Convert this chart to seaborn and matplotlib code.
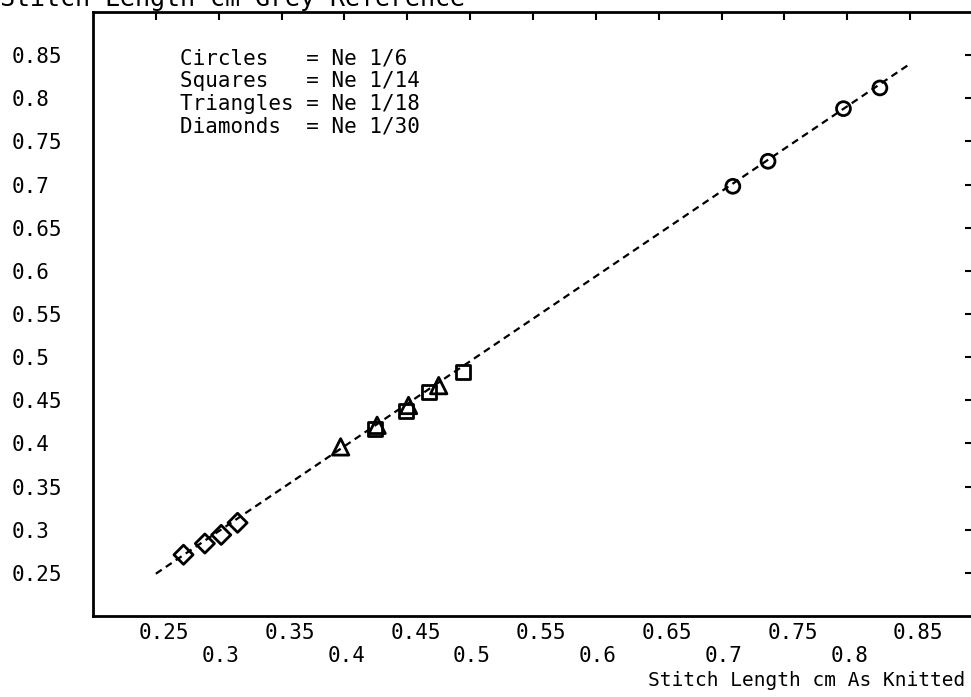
import matplotlib
matplotlib.use("Agg")
import matplotlib.pyplot as plt
import matplotlib.transforms as mtransforms
import seaborn as sns
import pandas as pd

sns.set_theme(style="white")
plt.rcParams['font.family'] = ['DejaVu Sans Mono']

# Stitch length measurements (cm): as knitted vs grey reference
circle_x = [0.709, 0.737, 0.797, 0.826]
circle_y = [0.698, 0.727, 0.788, 0.812]
square_x = [0.424, 0.449, 0.467, 0.494]
square_y = [0.417, 0.438, 0.460, 0.483]
triangle_x = [0.397, 0.426, 0.451, 0.475]
triangle_y = [0.396, 0.421, 0.444, 0.467]
diamond_x = [0.272, 0.289, 0.302, 0.315]
diamond_y = [0.271, 0.284, 0.294, 0.308]

# fitted line end points
fit_x = [0.25, 0.85]
fit_y = [0.249, 0.840]

tick_values = [0.25, 0.3, 0.35, 0.4, 0.45, 0.5, 0.55, 0.6, 0.65, 0.7, 0.75, 0.8, 0.85]
tick_labels = ['0.25', '0.3', '0.35', '0.4', '0.45', '0.5', '0.55', '0.6',
               '0.65', '0.7', '0.75', '0.8', '0.85']

legend_lines = ['Circles   = Ne 1/6', 'Squares   = Ne 1/14',
                'Triangles = Ne 1/18', 'Diamonds  = Ne 1/30']

W, H = 971, 697
fig = plt.figure(figsize=(W / 100, H / 100), dpi=100)
ax = fig.add_axes([93 / W, 1 - 616 / H, (W - 93) / W + 0.002, (616 - 12) / H])

sns.lineplot(x=fit_x, y=fit_y, ax=ax, color='black', linewidth=1.6,
             linestyle=(0, (3.2, 2.2)))

groups = [
    (circle_x, circle_y, 'o', 100),
    (square_x, square_y, 's', 100),
    (triangle_x, triangle_y, '^', 140),
    (diamond_x, diamond_y, 'D', 95),
]
for gx, gy, mk, sz in groups:
    df = pd.DataFrame({'x': gx, 'y': gy})
    sns.scatterplot(data=df, x='x', y='y', ax=ax, marker=mk, s=sz,
                    facecolors='none', edgecolor='black', linewidth=2.0,
                    zorder=3)

ax.set_xlim(0.2, 0.9)
ax.set_ylim(0.2, 0.9)
ax.set_xlabel('')
ax.set_ylabel('')

for side in ['left', 'bottom', 'top', 'right']:
    ax.spines[side].set_color('black')
    ax.spines[side].set_linewidth(2.0)

ax.set_xticks(tick_values)
ax.set_yticks(tick_values)
ax.set_xticklabels([lab if i % 2 == 0 else '\n' + lab
                    for i, lab in enumerate(tick_labels)])
ax.set_yticklabels(tick_labels)
ax.tick_params(axis='both', which='both', direction='in', length=6, width=1.5,
               top=True, right=True, colors='black', labelsize=15)
ax.tick_params(axis='x', pad=5)
ax.tick_params(axis='y', pad=0)

xoff = mtransforms.ScaledTranslation(-17 / 100, 0, fig.dpi_scale_trans)
for lab in ax.get_xticklabels():
    lab.set_horizontalalignment('left')
    lab.set_multialignment('left')
    lab.set_linespacing(1.2)
    lab.set_transform(lab.get_transform() + xoff)

yoff = mtransforms.ScaledTranslation(-81 / 100, 0, fig.dpi_scale_trans)
for lab in ax.get_yticklabels():
    lab.set_horizontalalignment('left')
    lab.set_transform(lab.get_transform() + yoff)

# key to the marker shapes
for i, line in enumerate(legend_lines):
    fig.text(180 / W, 1 - (58 + i * 23) / H, line, ha='left', va='center',
             fontsize=15, color='black')

fig.text(965 / W, 1 - 681 / H, 'Stitch Length cm As Knitted', ha='right',
         va='center', fontsize=14, color='black')
fig.text(465 / W, 1 - 6 / H, 'Stitch Length cm Grey Reference', ha='right',
         va='baseline', fontsize=18, color='black')

fig.savefig('out.png', dpi=100, facecolor='white')
